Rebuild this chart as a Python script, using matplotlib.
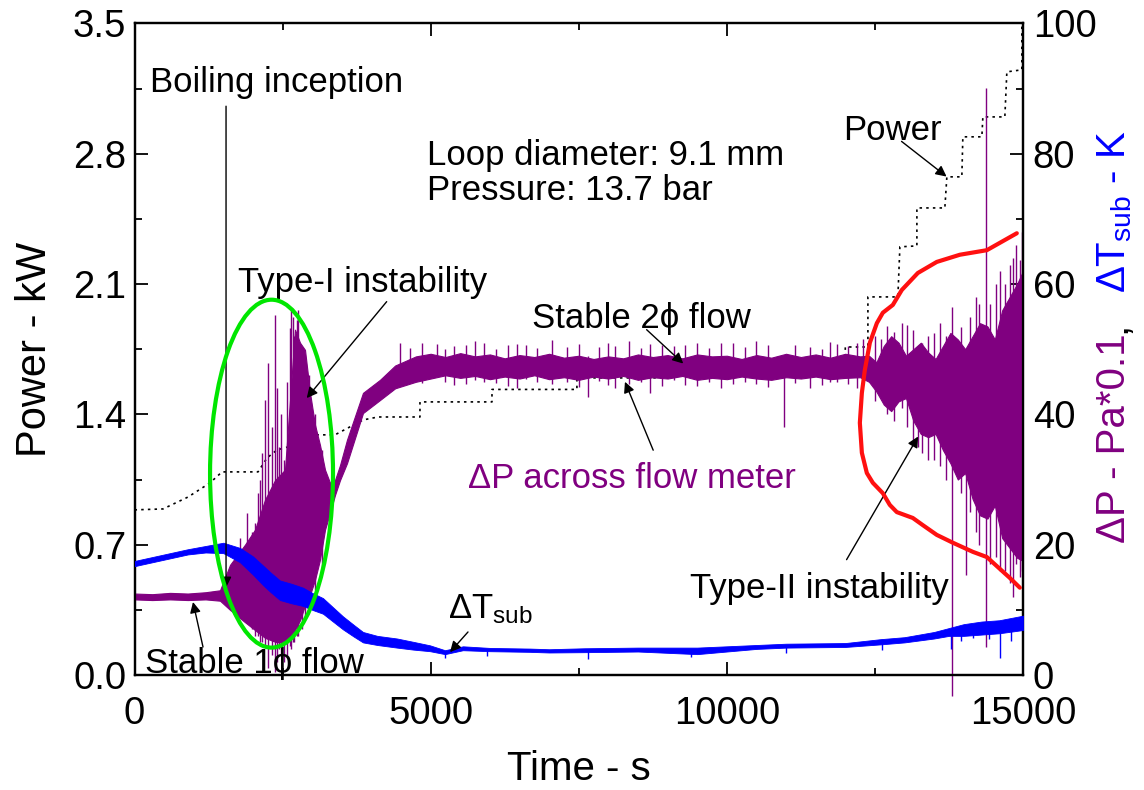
import numpy as np
import matplotlib
matplotlib.use("Agg")
import matplotlib.pyplot as plt
from matplotlib.patches import Ellipse
from matplotlib.ticker import MultipleLocator, FormatStrFormatter

plt.rcParams['font.family'] = ['Liberation Sans', 'DejaVu Sans']
plt.rcParams['mathtext.fontset'] = 'custom'
plt.rcParams['mathtext.rm'] = 'Liberation Sans'
plt.rcParams['mathtext.it'] = 'Liberation Sans:italic'

# Power (left axis, kW), dotted step trace
pw_t = [0, 481, 903, 1274, 1477, 2085, 2237, 2406, 2592, 2996,
        3384, 3857, 4110, 4819, 4819, 6035, 6035, 7469, 7469, 9000,
        9000, 12000, 12000, 12382, 12382, 12888, 12922, 13209, 13209, 13681,
        13715, 13968, 13985, 14306, 14323, 14694, 14728, 14981, 14981]
pw_kw = [0.887, 0.892, 0.956, 1.032, 1.091, 1.091, 1.166, 1.209, 1.225, 1.290,
         1.290, 1.370, 1.386, 1.386, 1.467, 1.467, 1.534, 1.534, 1.596, 1.596,
         1.657, 1.657, 1.762, 1.762, 2.031, 2.031, 2.300, 2.305, 2.509, 2.509,
         2.676, 2.676, 2.891, 2.891, 2.998, 2.998, 3.240, 3.251, 3.493]

# dP across flow meter (right axis, Pa*0.1): envelope of the signal
dp_t = [0, 300, 600, 900, 1200, 1443, 1612, 1865, 2034, 2203, 2372, 2540, 2625, 2709,
        2794, 2878, 2963, 3047, 3131, 3216, 3300, 3384, 3469, 3587, 3857, 4144, 4400, 4750,
        5000, 5250, 5500, 5750, 6000, 6250, 6500, 6750, 7000, 7250, 7500, 7750, 8000, 8250,
        8500, 8750, 9000, 9250, 9500, 9750, 10000, 10250, 10500, 10750, 11000, 11250, 11500,
        11750, 12000, 12250,
        12400, 12525, 12650, 12775, 12900, 13025, 13150, 13275, 13400, 13525, 13650, 13775,
        13900, 14025, 14150, 14275, 14400, 14525, 14650, 14775, 14900, 15000]
dp_hi = [12.5, 12.4, 12.6, 12.5, 12.7, 13.0, 16.9, 20.0, 22.3, 26.9, 29.9, 31.5, 42.2, 53.0,
         51.0, 49.9, 43.3, 38.4, 35.3, 31.5, 29.5, 29.9, 32.2, 36.1, 43.3, 45.3, 47.5, 48.9,
         49.3, 48.8, 49.4, 48.9, 49.2, 48.6, 49.1, 48.8, 49.3, 48.7, 49.0, 48.5, 48.9, 48.6,
         49.2, 48.8, 49.1, 48.6, 49.2, 48.9, 49.0, 48.5, 49.1, 48.7, 49.3, 48.8, 49.2,
         48.7, 49.3, 48.9,
         49.0, 48.0, 50.5, 52.0, 51.0, 49.0, 50.0, 51.0, 49.5, 48.5, 50.5, 52.5,
         51.5, 50.0, 52.0, 54.0, 53.5, 51.5, 56.0, 58.0, 60.0, 62.0]
dp_lo = [11.6, 11.5, 11.6, 11.5, 11.6, 11.4, 10.0, 8.1, 6.9, 5.7, 5.1, 4.9, 5.4, 6.9,
         8.4, 10.7, 12.3, 14.6, 17.7, 22.3, 24.9, 27.6, 29.9, 32.5, 40.2, 42.2, 44.0, 45.0,
         45.5, 46.0, 45.6, 45.9, 45.4, 45.8, 45.5, 46.0, 45.4, 45.7, 45.3, 45.8, 45.5, 45.9,
         45.3, 45.7, 45.5, 45.9, 45.3, 45.6, 45.4, 45.8, 45.5, 45.3, 45.7, 45.5, 45.8,
         45.4, 45.6, 45.7,
         45.0, 43.5, 41.5, 40.5, 42.0, 42.5, 39.0, 37.0, 36.5, 37.0, 34.5, 32.5,
         30.0, 31.0, 27.0, 24.5, 24.0, 26.0, 21.0, 19.5, 18.0, 17.5]

# single spikes of the dP signal
spk_t = [1700, 1780, 1894, 1980, 2034, 2080, 2120, 2160, 2203, 2259, 2320, 2372, 2400, 2440, 2480,
         2530, 2580, 2625, 2650, 2681, 2700, 2738, 2760, 2822, 2878, 2950, 3050, 3160,
         4480, 4650, 4850, 5100, 5250, 5400, 5600, 5750, 5900, 6100, 6300, 6450, 6608, 6800,
         7050, 7300, 7500, 7660, 7850, 8000, 8120, 8350, 8550, 8700, 8900, 9100, 9300, 9500,
         9700, 9900, 10100, 10300, 10500, 10700, 10960, 11150, 11400, 11600, 11750, 11853,
         12050, 12200, 12300,
         12500, 12600, 12700, 12820, 12950, 13050, 13150, 13230, 13300, 13400, 13500, 13600,
         13700, 13800, 13950, 14040, 14100, 14200, 14250, 14370, 14450, 14550, 14620, 14700,
         14780, 14830, 14880, 14950, 14980]
spk_lo = [9.0, 9.0, 8.0, 7.0, 6.0, 6.0, 5.0, 5.0, 4.5, 1.0, 3.0, 0.5, 2.0, 4.0, 3.0,
          2.0, 3.0, 4.5, 4.0, 5.0, 5.0, 6.0, 6.0, 7.0, 9.0, 11.0, 13.0, 16.0,
          45.0, 45.5, 44.8, 46.0, 45.0, 44.5, 44.6, 45.3, 45.0, 44.8, 44.3, 44.0, 45.5, 45.0,
          44.6, 44.9, 44.2, 42.7, 45.1, 44.5, 44.0, 44.7, 45.0, 43.3, 44.3, 45.2, 44.5, 44.4,
          45.0, 44.0, 44.6, 44.9, 44.6, 44.2, 38.1, 44.8, 44.0, 44.5, 45.0, 45.0,
          44.6, 44.0, 44.8,
          42.0, 43.0, 40.0, 39.0, 41.0, 38.0, 36.0, 35.0, 34.0, 33.0, 33.0, 32.0,
          30.0, -3.3, 28.0, 15.3, 25.0, 22.0, 20.0, 4.3, 17.0, 18.1, 16.0, 16.0,
          14.1, 12.0, 17.0, 15.0, 16.0]
spk_hi = [19.0, 21.0, 24.9, 22.0, 23.3, 28.0, 30.0, 34.0, 42.2, 47.9, 38.0, 55.3, 44.0, 35.0, 40.0,
          33.0, 45.0, 53.3, 56.0, 55.0, 52.0, 54.5, 56.0, 50.2, 48.8, 46.0, 40.0, 34.5,
          51.0, 50.2, 50.9, 50.8, 50.0, 50.5, 50.6, 51.3, 51.0, 50.1, 50.7, 50.8, 50.6, 50.2,
          51.4, 50.3, 50.8, 49.0, 50.4, 50.9, 50.5, 51.3, 50.2, 50.8, 50.7, 50.5, 50.6, 51.0,
          50.2, 51.0, 50.9, 50.4, 51.2, 50.7, 49.0, 50.6, 50.3, 50.1, 51.1, 50.8,
          50.5, 51.0, 51.6,
          52.0, 51.5, 53.5, 52.6, 54.0, 53.7, 53.0, 50.5, 51.0, 52.0, 52.5, 54.0,
          52.0, 56.5, 53.4, 50.0, 55.0, 58.0, 57.0, 90.1, 57.0, 60.0, 62.0, 60.0,
          62.9, 64.0, 66.0, 63.7, 68.0]

# dT_sub (right axis, K): centre and half width of the noisy trace
bt = [0, 300, 600, 900, 1200, 1500, 1781, 2000, 2169, 2300, 2456, 2650,
      2844, 3000, 3182, 3350, 3519, 3700, 3857, 4100, 4431, 4700, 4988, 5242,
      5545, 6000, 6676, 7000, 7600, 8500, 9500, 10500, 11000, 12000, 12600, 13000,
      13500, 13750, 14000, 14300, 14600, 15000]
bv = [17.1, 17.7, 18.3, 18.9, 19.3, 19.5, 18.4, 16.8, 15.3, 14.2, 13.0, 12.5,
      12.0, 11.3, 10.6, 9.3, 8.0, 6.8, 5.8, 5.3, 4.9, 4.5, 4.1, 3.5,
      4.1, 3.9, 3.8, 3.7, 3.8, 3.9, 3.7, 4.3, 4.5, 4.6, 5.1, 5.4,
      6.1, 6.6, 6.9, 7.2, 7.4, 8.0]
bw = [0.4, 0.4, 0.4, 0.4, 0.5, 0.8, 1.1, 1.4, 1.5, 1.5, 1.5, 1.5,
      1.4, 1.3, 1.2, 1.1, 1.0, 0.9, 0.8, 0.7, 0.7, 0.6, 0.45, 0.3,
      0.3, 0.25, 0.25, 0.25, 0.3, 0.3, 0.5, 0.3, 0.3, 0.3, 0.4, 0.4,
      0.5, 0.6, 0.9, 1.0, 1.0, 1.1]
bd_t = [5250, 5950, 7650, 9400, 11000, 12620, 13780, 13950, 14150, 14420, 14610, 14800]
bd_lo = [2.6, 2.9, 2.5, 2.8, 3.3, 3.9, 4.0, 5.2, 5.6, 5.5, 2.6, 5.2]

# red curve (right axis)
red_t = [14947, 14778, 14390, 14154, 13816, 13545, 13309, 13140, 12870, 12752, 12634, 12465, 12364, 12280,
         12246, 12280, 12330, 12415, 12533, 12634, 12803, 12955, 13225, 13545, 13934, 14390, 14896]
red_v = [13.4, 14.9, 18.1, 18.9, 20.3, 21.5, 23.0, 24.1, 25.0, 26.1, 27.9, 29.5, 31.0, 34.1,
         38.7, 43.3, 46.8, 51.0, 54.0, 55.6, 56.8, 59.1, 61.7, 63.4, 64.5, 65.2, 67.8]

purple = '#800080'
blue = '#0000ff'

fig = plt.figure(figsize=(11.44, 7.90), dpi=100)
ax = fig.add_axes([0.1176, 0.1456, 0.7766, 0.8247])
ax2 = ax.twinx()

ax.plot(pw_t, pw_kw, color='k', lw=1.2, dashes=(1.5, 2.5))

ax2.fill_between(dp_t, dp_lo, dp_hi, color=purple, lw=0.8, zorder=2)
ax2.vlines(spk_t, spk_lo, spk_hi, color=purple, lw=1.0, clip_on=False, zorder=2)

bv_a = np.array(bv)
bw_a = np.array(bw)
ax2.fill_between(bt, bv_a - bw_a, bv_a + bw_a, color=blue, lw=0.6, zorder=3)
ax2.plot(bt, bv, color=blue, lw=1.0, zorder=3)
ax2.vlines(bd_t, bd_lo, np.interp(bd_t, bt, bv), color=blue, lw=1.0, zorder=3)

ax2.plot(red_t, red_v, color='#ff1010', lw=3.0, solid_capstyle='round', zorder=4)

ax2.add_patch(Ellipse((2313, 30.9), 2076, 53.4, fill=False, ec='#00e600', lw=3.0, zorder=5))

ax.set_xlim(0, 15000)
ax.set_ylim(0, 3.5)
ax2.set_ylim(0, 100)

ax.xaxis.set_major_locator(MultipleLocator(5000))
ax.xaxis.set_minor_locator(MultipleLocator(2500))
ax.yaxis.set_major_locator(MultipleLocator(0.7))
ax.yaxis.set_minor_locator(MultipleLocator(0.35))
ax.yaxis.set_major_formatter(FormatStrFormatter('%.1f'))
ax2.yaxis.set_major_locator(MultipleLocator(20))
ax2.yaxis.set_minor_locator(MultipleLocator(10))

ax.tick_params(which='both', direction='in', top=True, right=False, labelsize=27.5, width=1.3)
ax.tick_params(which='major', length=9.5)
ax.tick_params(which='minor', length=5)
ax.tick_params(axis='x', pad=15)
ax.tick_params(axis='y', pad=6)
ax2.tick_params(which='both', direction='in', labelsize=27.5, width=1.3, pad=7)
ax2.tick_params(which='major', length=9.5)
ax2.tick_params(which='minor', length=5)
for a in (ax, ax2):
    for s in a.spines.values():
        s.set_linewidth(1.6)

ax.set_ylabel('Power - kW', fontsize=30)
ax.yaxis.set_label_coords(-0.09, 0.5)
ax.set_xlabel('Time - s', fontsize=29)
ax.xaxis.set_label_coords(0.5, -0.115)

# right axis label in two colours
xr = 1125 / 1144
fig.text(xr, (790 - 543) / 790, 'ΔP - Pa*0.1', rotation=90, rotation_mode='anchor',
         ha='left', va='baseline', color=purple, fontsize=29)
fig.text(xr, (790 - 333) / 790, ',', rotation=90, rotation_mode='anchor',
         ha='left', va='baseline', color='k', fontsize=29)
fig.text(xr, (790 - 293) / 790, r'ΔT$_{\rm sub}$ - K', rotation=90, rotation_mode='anchor',
         ha='left', va='baseline', color=blue, fontsize=29)

# annotations
fs = 25
arr = dict(arrowstyle='-|>', color='k', lw=1.0, shrinkA=0, shrinkB=0, mutation_scale=16)
ax2.text(262, 91.0, 'Boiling inception', fontsize=fs, va='center')
ax2.annotate('', xy=(1545, 13.4), xytext=(1545, 87.3), arrowprops=arr)
ax2.text(177, 0.3, 'Stable 1ϕ flow', fontsize=fs, va='baseline')
ax2.annotate('', xy=(987, 11.2), xytext=(1156, 4.3), arrowprops=arr)
ax2.text(5292, 8.75, r'ΔT$_{\rm sub}$', fontsize=fs, va='baseline')
ax2.annotate('', xy=(5326, 3.5), xytext=(5630, 6.6), arrowprops=arr)
ax2.text(1747, 58.8, 'Type-I instability', fontsize=fs, va='baseline')
ax2.annotate('', xy=(2907, 42.5), xytext=(4257, 57.3), arrowprops=arr)
ax2.text(6705, 53.2, 'Stable 2ϕ flow', fontsize=fs, va='baseline')
ax2.annotate('', xy=(9264, 47.8), xytext=(8646, 53.0), arrowprops=arr)
ax2.text(5635, 28.7, 'ΔP across flow meter', fontsize=fs, va='baseline', color=purple)
ax2.annotate('', xy=(8280, 45.0), xytext=(8757, 34.5), arrowprops=arr)
ax2.text(11965, 82.1, 'Power', fontsize=fs, va='baseline')
ax2.annotate('', xy=(13710, 76.5), xytext=(12950, 81.9), arrowprops=arr)
ax2.text(4932, 78.3, 'Loop diameter: 9.1 mm', fontsize=fs, va='baseline')
ax2.text(4932, 72.9, 'Pressure: 13.7 bar', fontsize=fs, va='baseline')
ax2.text(9377, 11.8, 'Type-II instability', fontsize=fs, va='baseline')
ax2.annotate('', xy=(13230, 36.6), xytext=(12022, 17.7), arrowprops=arr)

fig.savefig('out.png', dpi=100)
